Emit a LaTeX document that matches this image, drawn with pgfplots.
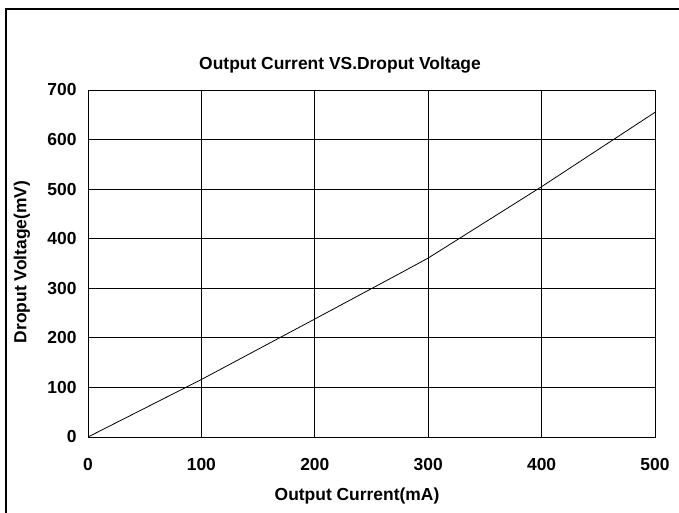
\documentclass[border=0pt]{standalone}
\usepackage{pgfplots}
\pgfplotsset{compat=1.18}
\usepackage{fontspec}
\setmainfont{Liberation Sans}
\begin{document}
\begin{tikzpicture}[x=1bp,y=1bp]
\useasboundingbox (0,0) rectangle (679,513);
\draw[line width=1.2bp] (6,0) -- (6,504) -- (679,504);
\begin{axis}[
  at={(88bp,76bp)}, anchor=south west,
  scale only axis, width=567bp, height=347bp,
  xmin=0, xmax=500, ymin=0, ymax=700,
  xtick={0,100,...,500}, ytick={0,100,...,700},
  grid=major, major grid style={black, line width=0.8bp},
  axis line style={black, line width=0.9bp},
  major tick length=0pt,
  tick label style={font=\fontsize{17.5}{19}\selectfont\bfseries},
  /pgf/number format/assume math mode=true,
  yticklabel style={xshift=-8bp},
  xticklabel style={yshift=-18bp},
]
\addplot[black, line width=0.8bp] coordinates {
(0,0) (100,116) (200,238) (275,330) (300,361) (325,397) (400,505) (500,655)
};
\end{axis}
\node[font=\fontsize{17.5}{19}\selectfont\bfseries] at (340,448) {Output Current VS.Droput Voltage};
\node[font=\fontsize{17.5}{19}\selectfont\bfseries] at (357,17) {Output Current(mA)};
\node[font=\fontsize{17.5}{19}\selectfont\bfseries, rotate=90] at (22,251) {Droput Voltage(mV)};
\end{tikzpicture}
\end{document}
